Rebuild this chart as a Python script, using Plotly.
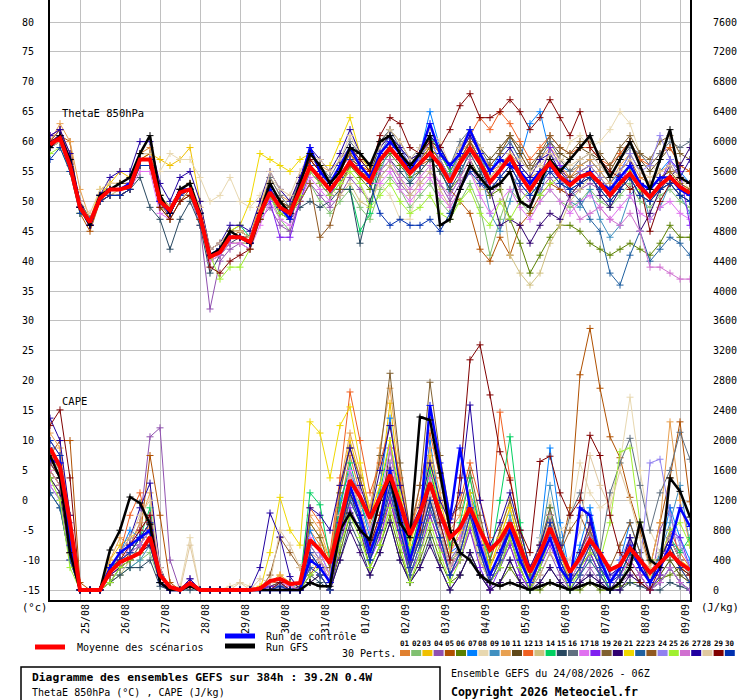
import plotly.graph_objects as go

# Échéances (heures depuis le 24/08/2026 06Z)
echeances = list(range(0, 385, 6))
jours_pos = [18 + 24 * k for k in range(16)]
jours_txt = ["25/08", "26/08", "27/08", "28/08", "29/08", "30/08", "31/08", "01/09",
             "02/09", "03/09", "04/09", "05/09", "06/09", "07/09", "08/09", "09/09"]
theta_ticks = list(range(-15, 81, 5))
cape_ticks = list(range(0, 7601, 400))

couleurs = ["#e08030", "#80c070", "#f0c000", "#9050b0", "#b05000", "#5a8000", "#0080ff", "#e8d8b0",
            "#4090c0", "#e8a050", "#604818", "#f06020", "#d0c080", "#00d060", "#284860", "#607080",
            "#e070f0", "#8020f0", "#806030", "#300070", "#f0d800", "#2060a0", "#905820", "#9080f0",
            "#a0f030", "#d070d0", "#2000a0", "#e0c8a0", "#800000", "#0030b0"]

# ThetaE 850 hPa (°C)
theta_moy = [59.5, 60.6, 56, 49, 46.5, 50.5, 52, 52, 52.5, 57, 57, 50, 48.5, 51.5, 52, 47.5, 40.7, 41.5,
             44, 44, 43.2, 48, 51.5, 49, 48, 52, 55.8, 53.9, 51.9, 54.1, 56.6, 54.7, 53.2, 56.9, 58.9,
             56.9, 54.7, 56.4, 58.1, 56.1, 53.2, 56.4, 58.9, 56.4, 53.2, 55.2, 57.4, 54.4, 51.9, 54.4,
             56.4, 54.1, 52.7, 54.1, 54.7, 53, 51, 53, 54.7, 52.4, 50.7, 52.7, 54.1, 52.4, 51.4]
theta_ctrl = [59, 61, 57, 49, 46, 51, 52, 52, 53, 57, 57, 50, 48, 52, 52, 48, 41, 42, 44, 44, 43, 48,
              52, 49, 47, 53, 59, 55, 53, 56, 59, 56, 54, 58, 60, 58, 55, 58, 63, 58, 56, 58, 62, 58,
              55, 57, 56, 55, 53, 55, 56, 54, 53, 54, 55, 53, 52, 54, 56, 53, 52, 54, 54, 52, 51]
theta_gfs = [59, 61, 57, 49, 46, 51, 52, 53, 54, 58, 61, 51, 48, 52, 53, 48, 41, 42, 45, 44, 43, 48,
             53, 50, 48, 53, 58, 56, 53, 55, 59, 58, 56, 60, 61, 58, 56, 58, 61, 46, 47, 52, 56, 54,
             52, 53, 55, 50, 49, 53, 57, 55, 57, 59, 61, 57, 54, 57, 60, 56, 52, 57, 62, 54, 53]
theta_perts = [
    [60, 62, 58, 50, 46, 51, 53, 53, 54, 58, 59, 51, 48, 52, 53, 48, 40, 42, 45, 44, 44, 49, 53, 50, 47, 53, 57, 55, 53, 56, 58, 55, 54, 58, 60, 58, 56, 57, 59, 57, 54, 58, 60, 57, 55, 56, 58, 56, 54, 55, 58, 56, 54, 56, 57, 55, 53, 55, 57, 54, 53, 55, 56, 54, 53],
    [59, 60, 55, 48, 47, 50, 51, 51, 52, 56, 56, 49, 48, 51, 51, 47, 40, 41, 43, 43, 43, 47, 51, 47, 45, 50, 53, 50, 48, 50, 52, 49, 47, 52, 54, 52, 49, 51, 53, 50, 48, 50, 53, 49, 41, 47, 52, 50, 48, 50, 52, 50, 49, 50, 52, 50, 49, 51, 53, 50, 49, 51, 52, 50, 49],
    [59, 60, 57, 49, 47, 52, 53, 55, 54, 57, 58, 57, 56, 57, 59, 50, 42, 43, 45, 45, 44, 50, 53, 50, 49, 53, 57, 55, 53, 55, 58, 56, 55, 58, 60, 58, 56, 58, 59, 57, 54, 57, 59, 57, 54, 56, 58, 55, 53, 55, 57, 55, 53, 55, 56, 54, 52, 54, 56, 53, 52, 54, 55, 53, 52],
    [61, 62, 57, 49, 46, 50, 51, 51, 52, 56, 56, 49, 48, 51, 51, 46, 32, 40, 42, 43, 42, 47, 49, 46, 45, 50, 53, 51, 49, 51, 54, 52, 50, 54, 56, 53, 51, 53, 55, 53, 50, 53, 56, 53, 51, 53, 55, 52, 50, 52, 54, 52, 51, 52, 53, 52, 50, 52, 54, 51, 50, 52, 53, 51, 50],
    [60, 61, 60, 48, 45, 50, 52, 52, 53, 57, 58, 50, 47, 50, 52, 48, 41, 42, 44, 45, 44, 48, 52, 49, 48, 52, 56, 54, 52, 54, 57, 55, 53, 57, 59, 57, 55, 56, 57, 55, 52, 50, 48, 42, 40, 44, 41, 46, 48, 51, 53, 52, 51, 53, 54, 53, 52, 53, 55, 52, 51, 52, 53, 51, 50],
    [59, 60, 56, 49, 47, 51, 52, 52, 53, 57, 57, 50, 49, 51, 52, 48, 41, 42, 44, 44, 43, 48, 51, 48, 47, 51, 55, 53, 51, 53, 56, 54, 52, 56, 58, 56, 54, 55, 57, 55, 52, 54, 57, 54, 51, 52, 47, 43, 38, 41, 44, 46, 46, 45, 43, 42, 41, 42, 43, 42, 41, 43, 46, 44, 44],
    [60, 61, 57, 50, 47, 51, 52, 53, 53, 58, 58, 51, 49, 52, 53, 48, 41, 42, 45, 44, 44, 49, 53, 50, 49, 53, 58, 56, 53, 56, 59, 57, 55, 59, 61, 59, 56, 58, 65, 59, 55, 58, 61, 58, 55, 58, 60, 57, 63, 65, 58, 56, 55, 56, 57, 55, 53, 55, 58, 55, 53, 55, 57, 55, 53],
    [59, 60, 56, 49, 46, 50, 51, 52, 52, 55, 55, 55, 58, 57, 57, 54, 50, 51, 54, 50, 49, 51, 54, 52, 50, 53, 56, 54, 52, 53, 55, 53, 50, 53, 51, 47, 47, 55, 57, 55, 53, 56, 58, 56, 53, 55, 57, 54, 52, 55, 58, 56, 60, 61, 59, 60, 62, 65, 63, 58, 56, 55, 55, 54, 52],
    [60, 61, 56, 49, 47, 51, 52, 52, 53, 57, 57, 50, 48, 51, 52, 47, 40, 41, 44, 44, 43, 48, 52, 49, 48, 52, 56, 54, 52, 54, 57, 55, 53, 55, 59, 57, 53, 57, 61, 56, 51, 54, 59, 56, 48, 45, 50, 56, 54, 51, 57, 54, 50, 49, 52, 47, 44, 46, 51, 53, 47, 49, 53, 51, 48],
    [60, 63, 60, 52, 47, 51, 53, 53, 54, 58, 58, 51, 49, 52, 53, 49, 42, 43, 45, 45, 44, 49, 54, 51, 50, 54, 57, 56, 55, 57, 59, 57, 56, 59, 61, 58, 56, 58, 60, 58, 55, 58, 60, 58, 56, 58, 61, 58, 55, 57, 59, 57, 55, 56, 57, 55, 53, 56, 58, 55, 53, 55, 56, 54, 53],
    [59, 61, 56, 49, 47, 50, 52, 52, 53, 57, 57, 50, 48, 51, 52, 48, 41, 42, 44, 44, 43, 48, 52, 50, 48, 52, 56, 53, 51, 54, 57, 56, 54, 60, 62, 60, 57, 58, 61, 59, 56, 59, 62, 59, 57, 59, 61, 58, 55, 58, 60, 58, 57, 59, 58, 57, 55, 58, 60, 57, 55, 57, 59, 56, 55],
    [60, 61, 56, 49, 47, 51, 52, 53, 53, 58, 58, 51, 49, 52, 53, 48, 41, 42, 44, 44, 44, 49, 53, 50, 49, 53, 57, 55, 53, 55, 58, 56, 55, 58, 60, 58, 56, 57, 60, 58, 55, 58, 61, 64, 62, 65, 63, 60, 57, 59, 61, 59, 58, 59, 59, 57, 56, 58, 60, 57, 56, 58, 59, 56, 55],
    [59, 60, 56, 49, 47, 50, 51, 52, 52, 56, 56, 49, 48, 51, 51, 47, 40, 41, 43, 43, 43, 47, 53, 50, 50, 54, 57, 55, 52, 51, 53, 50, 49, 54, 56, 54, 51, 53, 55, 52, 49, 52, 55, 52, 52, 54, 41, 38, 36, 38, 43, 46, 50, 52, 54, 52, 50, 52, 54, 51, 50, 52, 53, 51, 50],
    [60, 61, 57, 49, 47, 51, 52, 52, 53, 57, 57, 50, 48, 52, 52, 48, 41, 42, 45, 46, 44, 48, 52, 49, 48, 52, 56, 54, 52, 52, 52, 45, 48, 58, 61, 58, 56, 58, 61, 58, 55, 58, 62, 58, 53, 55, 57, 54, 52, 54, 56, 54, 53, 54, 55, 53, 51, 53, 55, 52, 51, 53, 54, 52, 51],
    [59, 60, 55, 49, 47, 50, 51, 51, 52, 54, 49, 47, 42, 47, 50, 46, 38, 41, 43, 44, 43, 47, 51, 48, 47, 49, 50, 49, 50, 52, 52, 43, 50, 55, 57, 55, 53, 55, 57, 55, 52, 55, 58, 55, 52, 54, 56, 53, 51, 53, 55, 53, 52, 53, 54, 52, 50, 52, 54, 51, 50, 52, 53, 51, 50],
    [60, 61, 56, 49, 47, 51, 52, 52, 53, 57, 57, 50, 49, 52, 52, 48, 41, 42, 44, 44, 43, 48, 54, 51, 49, 54, 58, 56, 54, 57, 60, 58, 56, 60, 62, 59, 57, 59, 61, 59, 56, 60, 62, 59, 56, 58, 60, 57, 55, 57, 60, 57, 55, 57, 58, 56, 54, 57, 59, 58, 56, 58, 60, 59, 60],
    [61, 62, 57, 49, 46, 50, 51, 51, 52, 55, 55, 48, 47, 50, 51, 47, 40, 41, 43, 43, 42, 46, 50, 47, 46, 50, 54, 52, 50, 56, 57, 55, 53, 53, 55, 52, 50, 52, 54, 51, 49, 52, 55, 51, 48, 50, 52, 49, 47, 50, 52, 50, 48, 50, 51, 49, 47, 49, 51, 48, 47, 49, 50, 48, 47],
    [60, 61, 56, 49, 47, 51, 52, 52, 53, 57, 57, 50, 48, 51, 52, 48, 41, 42, 44, 44, 43, 48, 50, 44, 44, 50, 55, 53, 51, 54, 57, 55, 53, 57, 59, 57, 55, 56, 58, 56, 53, 56, 59, 56, 53, 55, 57, 54, 52, 54, 59, 56, 53, 54, 55, 53, 51, 53, 56, 53, 51, 53, 57, 55, 46],
    [60, 61, 56, 49, 47, 51, 52, 52, 53, 57, 57, 50, 48, 52, 52, 48, 41, 42, 45, 44, 44, 48, 53, 50, 49, 53, 57, 55, 53, 55, 58, 56, 54, 58, 60, 58, 56, 57, 59, 57, 54, 57, 60, 57, 56, 58, 61, 59, 56, 58, 61, 59, 58, 60, 60, 58, 56, 59, 61, 58, 57, 60, 61, 58, 57],
    [60, 61, 56, 49, 47, 51, 52, 52, 53, 57, 57, 50, 48, 51, 52, 48, 41, 42, 44, 44, 43, 48, 52, 49, 48, 52, 56, 54, 52, 54, 57, 55, 53, 57, 59, 57, 55, 56, 58, 56, 53, 56, 59, 56, 52, 46, 47, 46, 43, 46, 48, 47, 51, 53, 55, 51, 49, 52, 55, 45, 48, 52, 54, 56, 59],
    [59, 61, 56, 49, 47, 51, 53, 53, 54, 57, 57, 51, 49, 52, 52, 48, 41, 42, 45, 46, 50, 58, 57, 56, 55, 57, 58, 56, 56, 60, 64, 58, 55, 58, 60, 58, 56, 57, 59, 57, 54, 57, 59, 56, 53, 55, 57, 54, 52, 54, 56, 54, 53, 54, 55, 53, 51, 53, 55, 52, 51, 53, 54, 52, 51],
    [60, 61, 56, 49, 47, 51, 52, 52, 53, 57, 57, 50, 48, 51, 52, 48, 41, 42, 44, 44, 43, 48, 52, 49, 48, 52, 56, 54, 52, 54, 57, 55, 53, 57, 59, 57, 55, 56, 58, 56, 53, 56, 59, 56, 53, 55, 57, 54, 52, 54, 56, 54, 52, 50, 47, 45, 38, 36, 41, 45, 40, 42, 44, 43, 41],
    [60, 62, 57, 50, 47, 51, 52, 53, 53, 58, 58, 51, 49, 52, 53, 48, 41, 42, 45, 45, 44, 49, 53, 50, 48, 50, 53, 44, 46, 52, 56, 55, 54, 58, 60, 58, 56, 57, 59, 57, 54, 57, 60, 57, 54, 56, 58, 55, 53, 55, 57, 55, 54, 55, 56, 54, 52, 54, 56, 53, 52, 54, 55, 53, 52],
    [60, 61, 56, 49, 47, 51, 52, 52, 53, 57, 57, 50, 48, 51, 52, 48, 41, 42, 44, 44, 43, 48, 52, 49, 48, 52, 56, 54, 52, 54, 57, 55, 53, 58, 61, 59, 56, 57, 60, 57, 54, 58, 61, 58, 52, 54, 56, 53, 51, 53, 55, 54, 53, 55, 56, 54, 52, 55, 58, 55, 56, 61, 57, 54, 53],
    [58, 59, 55, 48, 47, 50, 51, 51, 52, 56, 56, 49, 47, 50, 51, 47, 41, 37, 39, 39, 42, 47, 51, 48, 47, 51, 55, 53, 51, 53, 55, 53, 49, 51, 53, 50, 48, 49, 51, 48, 47, 50, 52, 48, 46, 50, 47, 50, 52, 51, 53, 54, 53, 54, 55, 53, 51, 53, 55, 52, 51, 53, 54, 52, 51],
    [60, 61, 56, 49, 47, 51, 52, 52, 53, 57, 57, 50, 48, 51, 52, 48, 41, 42, 44, 44, 43, 48, 52, 49, 48, 52, 56, 54, 52, 54, 57, 55, 53, 55, 57, 54, 52, 54, 56, 53, 51, 54, 57, 53, 53, 55, 57, 54, 52, 54, 56, 54, 50, 47, 48, 49, 47, 46, 48, 45, 39, 39, 38, 37, 37],
    [61, 62, 58, 50, 46, 51, 54, 55, 55, 60, 60, 53, 50, 54, 55, 50, 42, 43, 46, 46, 45, 50, 55, 52, 50, 54, 59, 57, 55, 58, 62, 58, 56, 59, 61, 59, 57, 58, 61, 59, 56, 58, 61, 58, 55, 57, 59, 56, 54, 57, 58, 55, 53, 54, 55, 53, 51, 55, 57, 53, 51, 53, 56, 54, 57],
    [59, 60, 56, 50, 48, 52, 53, 53, 54, 58, 58, 51, 49, 52, 53, 49, 42, 43, 45, 45, 44, 49, 55, 52, 51, 55, 58, 57, 55, 57, 61, 58, 56, 59, 62, 60, 57, 59, 62, 60, 56, 59, 62, 59, 54, 56, 58, 57, 55, 56, 58, 57, 56, 57, 58, 56, 54, 55, 57, 55, 54, 55, 56, 54, 53],
    [60, 61, 57, 49, 46, 50, 51, 51, 52, 56, 56, 49, 47, 50, 51, 47, 39, 38, 40, 41, 42, 47, 52, 49, 48, 53, 57, 55, 53, 56, 59, 57, 55, 61, 64, 63, 59, 58, 60, 59, 62, 66, 68, 64, 64, 65, 67, 65, 62, 64, 67, 64, 61, 65, 59, 57, 55, 54, 52, 53, 45, 50, 53, 54, 53],
    [57, 59, 55, 48, 47, 50, 51, 51, 52, 56, 56, 50, 48, 51, 52, 48, 41, 42, 44, 44, 43, 48, 52, 49, 48, 52, 56, 54, 52, 54, 57, 55, 53, 48, 46, 47, 46, 46, 47, 45, 48, 52, 55, 53, 52, 54, 56, 53, 51, 53, 55, 53, 52, 53, 54, 52, 50, 52, 54, 51, 50, 52, 53, 51, 50],
]

# CAPE (J/kg)
cape_moy = [1900, 1650, 900, 0, 0, 0, 240, 375, 430, 495, 710, 200, 40, 0, 95, 0, 0, 0, 0, 0, 0, 20,
            120, 150, 80, 95, 670, 535, 360, 900, 1470, 1250, 960, 1240, 1540, 1160, 740, 1030, 1430,
            1030, 700, 830, 1100, 800, 535, 670, 900, 575, 240, 495, 830, 535, 240, 430, 670, 495,
            270, 335, 560, 400, 230, 360, 495, 360, 270]
cape_ctrl = [1740, 1700, 600, 0, 0, 0, 300, 500, 600, 700, 800, 100, 0, 0, 100, 0, 0, 0, 0, 0, 0, 0, 0,
             0, 0, 0, 400, 300, 100, 900, 1400, 1000, 500, 900, 1600, 1000, 400, 900, 2470, 1700, 950,
             1900, 1100, 600, 200, 500, 800, 400, 100, 400, 700, 300, 100, 1100, 1000, 400, 100, 300,
             600, 300, 100, 300, 600, 1100, 850]
cape_gfs = [1800, 1500, 500, 0, 0, 0, 535, 800, 1244, 1164, 880, 100, 0, 0, 50, 0, 0, 0, 0, 0, 0, 0, 0,
            0, 0, 0, 100, 50, 50, 800, 1030, 800, 669, 1200, 1500, 900, 700, 2315, 2275, 1565, 800,
            500, 400, 200, 100, 50, 100, 50, 0, 50, 100, 50, 0, 50, 100, 50, 0, 100, 300, 910, 400,
            300, 1500, 1320, 976]
cape_perts = [
    [1700, 1500, 600, 0, 0, 0, 300, 500, 400, 600, 900, 200, 0, 0, 100, 0, 0, 0, 0, 0, 0, 0, 100, 150, 50, 100, 800, 600, 300, 1100, 1800, 1300, 900, 1200, 1700, 1100, 500, 1000, 1600, 1000, 600, 700, 1200, 700, 300, 600, 900, 500, 100, 400, 800, 400, 100, 300, 600, 300, 0, 200, 500, 300, 100, 300, 600, 300, 200],
    [1500, 1300, 500, 0, 0, 0, 100, 200, 300, 400, 500, 100, 0, 0, 50, 0, 0, 0, 0, 0, 0, 0, 0, 50, 0, 0, 400, 300, 100, 700, 1300, 1000, 600, 900, 1400, 900, 300, 700, 1200, 800, 400, 500, 1000, 500, 100, 400, 700, 300, 0, 300, 900, 500, 100, 200, 500, 200, 0, 100, 400, 200, 0, 200, 400, 200, 100],
    [1900, 1700, 800, 0, 0, 0, 400, 600, 700, 800, 1000, 300, 0, 0, 100, 0, 0, 0, 0, 0, 0, 50, 100, 200, 100, 100, 900, 700, 400, 1300, 2000, 1500, 1000, 1400, 2500, 1400, 700, 1100, 1800, 1200, 700, 800, 1300, 800, 300, 700, 1100, 600, 200, 500, 900, 500, 200, 400, 700, 400, 100, 300, 600, 400, 200, 400, 700, 400, 300],
    [2000, 1800, 900, 0, 0, 0, 200, 500, 600, 900, 2050, 2170, 400, 0, 150, 0, 0, 0, 0, 0, 0, 0, 50, 100, 0, 0, 300, 200, 0, 600, 1200, 1000, 500, 800, 1300, 700, 200, 600, 1100, 700, 300, 400, 900, 500, 100, 300, 600, 200, 0, 200, 500, 200, 0, 100, 300, 100, 0, 100, 200, 100, 0, 800, 1100, 300, 100],
    [1800, 2000, 2000, 100, 0, 0, 100, 300, 500, 700, 1800, 1000, 100, 0, 50, 0, 0, 0, 0, 0, 0, 0, 0, 0, 0, 0, 200, 400, 100, 800, 1200, 900, 500, 800, 1200, 700, 300, 700, 1000, 600, 200, 400, 800, 400, 100, 300, 700, 300, 0, 400, 900, 500, 1100, 2880, 3500, 2700, 2050, 1770, 1240, 800, 300, 900, 1500, 2250, 1180],
    [1600, 1400, 500, 0, 0, 0, 100, 300, 400, 500, 600, 100, 0, 0, 50, 0, 0, 0, 0, 0, 0, 0, 0, 0, 0, 0, 100, 200, 0, 500, 1000, 800, 300, 600, 1000, 500, 100, 400, 800, 400, 100, 200, 500, 200, 0, 100, 300, 100, 0, 0, 100, 50, 0, 0, 100, 0, 0, 50, 100, 100, 0, 150, 200, 300, 200],
    [1900, 1700, 700, 0, 0, 0, 300, 500, 800, 700, 900, 200, 0, 0, 100, 0, 0, 0, 0, 0, 0, 0, 100, 100, 0, 100, 800, 500, 200, 1200, 1600, 1200, 700, 1400, 2300, 1300, 400, 900, 2000, 1100, 500, 600, 1300, 900, 200, 500, 900, 400, 100, 700, 1900, 900, 200, 600, 1100, 500, 100, 400, 900, 500, 100, 500, 1100, 700, 400],
    [1700, 1500, 600, 0, 0, 0, 200, 400, 500, 600, 800, 100, 0, 50, 700, 0, 0, 0, 50, 100, 50, 0, 0, 100, 100, 0, 300, 400, 100, 900, 1400, 1100, 600, 1000, 1500, 900, 300, 800, 1300, 800, 300, 500, 900, 400, 100, 400, 800, 400, 100, 700, 1200, 800, 900, 1700, 1300, 1100, 1200, 1700, 2580, 1600, 800, 500, 700, 400, 200],
    [1400, 1200, 400, 0, 0, 0, 100, 300, 300, 400, 600, 100, 0, 0, 50, 0, 0, 0, 0, 0, 0, 0, 50, 50, 0, 0, 500, 300, 100, 800, 1300, 900, 400, 900, 1600, 1000, 300, 700, 1200, 800, 300, 600, 1300, 700, 200, 500, 1000, 500, 100, 600, 1400, 700, 200, 500, 800, 400, 100, 300, 700, 300, 100, 500, 900, 1400, 600],
    [2100, 1900, 1000, 0, 0, 0, 400, 700, 600, 900, 1300, 300, 0, 0, 100, 0, 0, 0, 0, 0, 0, 0, 100, 200, 100, 100, 1000, 800, 400, 1400, 2100, 1600, 1100, 1900, 2700, 1600, 800, 1200, 1900, 1300, 800, 1000, 1500, 900, 400, 800, 1200, 700, 200, 600, 1000, 500, 200, 500, 800, 400, 100, 300, 600, 400, 300, 900, 2250, 1200, 600],
    [1600, 1400, 500, 0, 0, 0, 200, 300, 400, 500, 700, 100, 0, 0, 50, 0, 0, 0, 0, 0, 0, 0, 50, 100, 0, 50, 600, 400, 200, 1000, 1500, 1100, 600, 900, 1900, 1100, 400, 800, 1500, 900, 400, 600, 1100, 600, 200, 400, 800, 400, 100, 400, 800, 400, 100, 300, 500, 200, 0, 200, 400, 200, 0, 200, 400, 200, 100],
    [1800, 1700, 800, 0, 0, 0, 300, 500, 1000, 1300, 700, 200, 0, 0, 100, 0, 0, 0, 0, 0, 0, 0, 100, 100, 50, 100, 1100, 900, 500, 1500, 2650, 2000, 1300, 1700, 2200, 1500, 700, 1400, 2100, 1500, 900, 1200, 1700, 1200, 700, 2380, 1500, 800, 300, 600, 1000, 500, 200, 500, 900, 400, 100, 300, 600, 300, 100, 400, 800, 500, 300],
    [1500, 1300, 500, 0, 0, 0, 100, 200, 400, 500, 700, 100, 0, 0, 50, 0, 0, 0, 0, 0, 0, 0, 0, 100, 50, 0, 400, 300, 100, 700, 1200, 900, 500, 700, 1100, 700, 200, 600, 1000, 600, 200, 400, 800, 400, 100, 300, 600, 300, 0, 200, 500, 300, 0, 200, 400, 200, 0, 200, 500, 300, 100, 300, 500, 300, 100],
    [1800, 1600, 700, 0, 0, 0, 300, 400, 500, 700, 1100, 200, 0, 0, 100, 0, 0, 0, 0, 0, 0, 0, 0, 100, 100, 100, 1300, 1140, 400, 1100, 1700, 1200, 800, 1300, 2000, 1200, 500, 1000, 1600, 1100, 600, 900, 1500, 800, 400, 1200, 2050, 900, 200, 500, 1100, 500, 100, 400, 700, 300, 0, 200, 500, 300, 100, 400, 700, 500, 700],
    [1300, 1100, 400, 0, 0, 0, 100, 200, 300, 300, 400, 50, 0, 0, 0, 0, 0, 0, 0, 0, 0, 0, 0, 0, 0, 0, 200, 100, 0, 400, 900, 600, 200, 500, 900, 400, 100, 300, 700, 300, 0, 200, 500, 200, 0, 100, 400, 100, 0, 100, 300, 100, 0, 100, 200, 100, 0, 0, 100, 50, 0, 0, 100, 50, 0],
    [1700, 1500, 600, 0, 0, 0, 200, 400, 400, 600, 800, 200, 0, 0, 50, 0, 0, 0, 0, 0, 0, 0, 0, 50, 0, 0, 500, 300, 100, 900, 1400, 1000, 600, 1000, 1600, 1000, 400, 700, 1300, 800, 300, 500, 1000, 500, 100, 400, 800, 400, 100, 500, 1000, 500, 1000, 1300, 800, 500, 1300, 1700, 2030, 1400, 800, 1300, 1600, 2110, 1750],
    [1400, 1200, 400, 0, 0, 0, 200, 300, 600, 800, 1000, 300, 0, 0, 100, 0, 0, 0, 0, 0, 0, 0, 0, 100, 50, 0, 700, 500, 200, 1000, 1600, 1300, 800, 1200, 1900, 1100, 400, 900, 1500, 1000, 500, 700, 1200, 700, 200, 500, 900, 400, 100, 500, 900, 500, 100, 400, 800, 400, 100, 300, 600, 300, 100, 300, 600, 300, 100],
    [1700, 1500, 600, 0, 0, 0, 300, 500, 600, 700, 900, 200, 0, 0, 50, 0, 0, 0, 0, 0, 0, 0, 50, 50, 0, 0, 300, 200, 0, 600, 1100, 800, 400, 700, 1200, 700, 200, 500, 1000, 600, 200, 400, 800, 300, 0, 300, 600, 200, 0, 300, 600, 300, 0, 200, 500, 200, 0, 200, 400, 200, 0, 200, 800, 700, 300],
    [1800, 1600, 700, 0, 0, 0, 200, 500, 600, 700, 900, 200, 0, 0, 100, 0, 0, 0, 0, 0, 0, 0, 0, 100, 100, 100, 900, 700, 300, 1300, 1900, 1500, 1000, 1800, 2900, 1700, 800, 1400, 2780, 1800, 1000, 1100, 1600, 1000, 400, 800, 1200, 700, 200, 600, 1100, 600, 200, 500, 800, 400, 100, 300, 700, 400, 100, 400, 700, 400, 200],
    [1500, 1300, 500, 0, 0, 0, 200, 300, 400, 500, 600, 100, 0, 0, 50, 0, 0, 0, 0, 0, 0, 0, 0, 0, 0, 0, 100, 200, 0, 400, 800, 500, 200, 500, 900, 400, 100, 300, 600, 300, 0, 200, 500, 200, 0, 100, 400, 100, 0, 100, 300, 100, 0, 100, 200, 100, 0, 0, 200, 100, 0, 100, 300, 100, 0],
    [1600, 1400, 500, 0, 0, 0, 200, 500, 600, 700, 900, 200, 0, 0, 100, 0, 0, 0, 0, 0, 0, 0, 500, 1240, 800, 600, 2250, 2100, 1500, 2200, 2450, 1700, 1000, 1400, 2000, 1300, 600, 1100, 1700, 1100, 500, 800, 1300, 800, 300, 700, 1100, 600, 100, 500, 900, 500, 100, 300, 600, 300, 100, 300, 600, 300, 100, 300, 600, 300, 100],
    [1300, 1100, 400, 0, 0, 0, 300, 400, 500, 600, 800, 100, 0, 0, 50, 0, 0, 0, 0, 0, 0, 0, 0, 50, 0, 0, 300, 200, 0, 700, 1200, 900, 400, 800, 1300, 800, 200, 600, 1100, 700, 200, 500, 1000, 500, 100, 300, 700, 300, 0, 300, 700, 300, 0, 200, 400, 200, 0, 100, 300, 100, 0, 100, 300, 100, 0],
    [1700, 1500, 700, 0, 0, 0, 200, 400, 500, 700, 900, 200, 0, 0, 50, 0, 0, 0, 0, 0, 0, 0, 200, 700, 500, 300, 400, 300, 100, 900, 1400, 1000, 500, 900, 1500, 900, 300, 700, 1200, 800, 300, 600, 1100, 600, 200, 500, 900, 500, 100, 500, 900, 500, 800, 1000, 700, 400, 300, 600, 900, 500, 100, 400, 700, 400, 200],
    [1900, 1700, 800, 0, 0, 0, 200, 400, 500, 600, 800, 200, 0, 0, 100, 0, 0, 0, 0, 0, 0, 0, 0, 100, 0, 0, 600, 400, 100, 900, 1500, 1100, 600, 1000, 1700, 1000, 400, 800, 1400, 900, 400, 600, 1100, 600, 100, 400, 800, 400, 100, 400, 800, 400, 100, 300, 700, 300, 100, 400, 700, 300, 1700, 1750, 1000, 600, 300],
    [1500, 1200, 300, 0, 0, 0, 100, 300, 400, 500, 700, 100, 0, 0, 50, 0, 0, 0, 0, 0, 0, 0, 0, 50, 0, 0, 200, 300, 100, 600, 1000, 700, 300, 600, 1100, 600, 100, 500, 900, 500, 100, 400, 900, 500, 100, 300, 700, 300, 0, 300, 700, 300, 0, 300, 500, 400, 900, 1850, 1900, 900, 400, 400, 800, 900, 600],
    [1600, 1400, 500, 0, 0, 0, 200, 400, 500, 600, 800, 200, 0, 0, 50, 0, 0, 0, 0, 0, 0, 0, 0, 50, 0, 0, 500, 400, 100, 800, 1400, 1000, 500, 900, 1500, 900, 300, 700, 1300, 800, 300, 500, 1000, 500, 100, 400, 800, 400, 100, 400, 900, 400, 100, 300, 600, 300, 100, 200, 400, 200, 0, 100, 300, 100, 0],
    [2300, 2000, 1000, 0, 0, 0, 300, 500, 700, 1100, 1430, 300, 0, 0, 150, 0, 0, 0, 0, 0, 0, 300, 1030, 710, 180, 0, 1100, 1000, 800, 1400, 1900, 1400, 1000, 1600, 2200, 1400, 800, 1100, 1700, 1200, 900, 1300, 2475, 1200, 600, 900, 1300, 800, 300, 600, 1000, 600, 200, 500, 900, 500, 200, 300, 700, 400, 100, 400, 700, 400, 200],
    [1800, 1600, 600, 0, 0, 0, 200, 500, 700, 1000, 1200, 300, 0, 0, 600, 0, 0, 0, 0, 100, 0, 150, 100, 800, 600, 300, 500, 400, 200, 1000, 1500, 1100, 600, 1000, 1500, 900, 400, 800, 1300, 800, 300, 600, 1000, 500, 100, 400, 800, 400, 100, 500, 1000, 500, 400, 800, 1800, 1400, 1100, 1600, 1200, 700, 300, 500, 700, 400, 200],
    [2200, 2410, 1500, 0, 0, 0, 200, 400, 600, 800, 1000, 200, 0, 0, 100, 0, 0, 0, 0, 0, 0, 0, 0, 100, 0, 0, 400, 300, 100, 800, 1300, 1000, 600, 1000, 1600, 1000, 400, 800, 1400, 900, 400, 1500, 3080, 3280, 2610, 1850, 1470, 800, 500, 1720, 1790, 1300, 1000, 1200, 2070, 1800, 1000, 500, 300, 100, 0, 300, 500, 300, 200],
    [2000, 1800, 800, 0, 0, 0, 300, 400, 500, 700, 900, 200, 0, 0, 100, 0, 0, 0, 0, 0, 0, 0, 0, 50, 0, 0, 500, 300, 100, 800, 1300, 900, 400, 800, 1400, 800, 300, 700, 1200, 700, 200, 500, 1000, 500, 100, 400, 800, 400, 100, 400, 900, 400, 100, 300, 600, 300, 100, 200, 500, 300, 100, 300, 600, 300, 100],
]

for nom, serie in [("theta_moy", theta_moy), ("theta_ctrl", theta_ctrl), ("theta_gfs", theta_gfs),
                   ("cape_moy", cape_moy), ("cape_ctrl", cape_ctrl), ("cape_gfs", cape_gfs)]:
    assert len(serie) == 65, (nom, len(serie))
for k in range(30):
    assert len(theta_perts[k]) == 65, ("theta", k + 1, len(theta_perts[k]))
    assert len(cape_perts[k]) == 65, ("cape", k + 1, len(cape_perts[k]))

POLICE = "DejaVu Sans Mono"
Y1 = [-16.67, 83.68]
Y2 = [(Y1[0] + 15) * 80, (Y1[1] + 15) * 80]


def px(x):
    return (x - 50) / 640


def py(y):
    return (600 - y) / 600


def trace(y, couleur, largeur, axe, marqueurs=True):
    return go.Scatter(
        x=echeances, y=y, yaxis=axe, mode="lines+markers" if marqueurs else "lines",
        line=dict(color=couleur, width=largeur),
        marker=dict(symbol="cross-thin", size=5, line=dict(color=couleur, width=1)),
        showlegend=False, hoverinfo="skip",
    )


fig = go.Figure()
for k in range(30):
    fig.add_trace(trace(cape_perts[k], couleurs[k], 1, "y2"))
    fig.add_trace(trace(theta_perts[k], couleurs[k], 1, "y"))
fig.add_trace(trace(cape_ctrl, "#0000ff", 2.5, "y2"))
fig.add_trace(trace(theta_ctrl, "#0000ff", 2.5, "y"))
fig.add_trace(trace(cape_gfs, "#000000", 2.5, "y2"))
fig.add_trace(trace(theta_gfs, "#000000", 2.5, "y"))
fig.add_trace(trace(cape_moy, "#ff0000", 4, "y2", marqueurs=False))
fig.add_trace(trace(theta_moy, "#ff0000", 4, "y", marqueurs=False))

annotations = [
    dict(x=px(60), y=py(113), text="ThetaE 850hPa", size=10.5),
    dict(x=px(60), y=py(401), text="CAPE", size=10.5),
    dict(x=px(20), y=py(607), text="(°c)", size=10.5),
    dict(x=px(699), y=py(607), text="(J/kg)", size=10.5),
    dict(x=px(75), y=py(647), text="Moyenne des scénarios", size=10),
    dict(x=px(264), y=py(636), text="Run de contrôle", size=10),
    dict(x=px(264), y=py(647), text="Run GFS", size=10),
    dict(x=px(340), y=py(653), text="30 Perts.", size=10),
    dict(x=px(30), y=py(678), text="<b>Diagramme des ensembles GEFS sur 384h : 39.2N 0.4W</b>", size=11.3),
    dict(x=px(30), y=py(692), text="ThetaE 850hPa (°C) , CAPE (J/kg)", size=10),
    dict(x=px(449), y=py(673), text="Ensemble GEFS du 24/08/2026 - 06Z", size=10),
    dict(x=px(449), y=py(692), text="<b>Copyright 2026 Meteociel.fr</b>", size=11.5),
]
annots = [dict(xref="paper", yref="paper", x=a["x"], y=a["y"], text=a["text"], showarrow=False,
               xanchor="left", yanchor="middle", font=dict(family=POLICE, size=a["size"], color="black"))
          for a in annotations]

# graduations de gauche calées à gauche, comme sur l'original
for v in theta_ticks:
    annots.append(dict(xref="paper", yref="y", x=px(20), y=v, text=str(v), showarrow=False,
                       xanchor="left", yanchor="middle", font=dict(family=POLICE, size=10, color="black")))

formes = [
    dict(type="line", xref="paper", yref="paper", x0=px(35), x1=px(65), y0=py(647), y1=py(647),
         line=dict(color="#ff0000", width=5)),
    dict(type="line", xref="paper", yref="paper", x0=px(225), x1=px(255), y0=py(636), y1=py(636),
         line=dict(color="#0000ff", width=5)),
    dict(type="line", xref="paper", yref="paper", x0=px(225), x1=px(255), y0=py(646), y1=py(646),
         line=dict(color="#000000", width=5)),
    dict(type="rect", xref="paper", yref="paper", x0=px(21), x1=px(440), y0=py(667), y1=py(703),
         line=dict(color="black", width=1.5), fillcolor="rgba(0,0,0,0)"),
]
for k in range(30):
    x0 = 400 + 11.2 * k
    formes.append(dict(type="rect", xref="paper", yref="paper", x0=px(x0), x1=px(x0 + 10),
                       y0=py(656), y1=py(650), line=dict(width=0), fillcolor=couleurs[k]))
    annots.append(dict(xref="paper", yref="paper", x=px(x0 + 5), y=py(643), text="<b>%02d</b>" % (k + 1),
                       showarrow=False, xanchor="center", yanchor="middle",
                       font=dict(family=POLICE, size=7.5, color="black")))

fig.update_layout(
    width=740, height=700,
    margin=dict(l=50, r=50, t=0, b=100),
    paper_bgcolor="white", plot_bgcolor="white",
    font=dict(family=POLICE, size=10, color="black"),
    xaxis=dict(range=[0, 384], tickvals=jours_pos, ticktext=jours_txt, tickangle=-90,
               showgrid=True, gridcolor="#c0c0c0", gridwidth=1, zeroline=False,
               showline=True, linecolor="black", linewidth=2, ticks="",
               ticklabelstandoff=-2, ticklabelshift=6, tickfont=dict(family=POLICE, size=10)),
    yaxis=dict(range=Y1, tickvals=theta_ticks, showticklabels=False, showgrid=True,
               gridcolor="#c0c0c0", gridwidth=1, zeroline=False, showline=True, linecolor="black",
               linewidth=2, ticks=""),
    yaxis2=dict(range=Y2, overlaying="y", side="right", tickvals=cape_ticks,
                showgrid=False, zeroline=False, showline=True, linecolor="black", linewidth=2,
                ticks="", ticklabelstandoff=19, tickfont=dict(family=POLICE, size=10)),
    annotations=annots,
    shapes=formes,
)

# la page HTML a une marge de 8 px par défaut : on la supprime pour caler la figure sur la fenêtre
fig.write_html("out.html", config={"displayModeBar": False},
               post_script="document.body.style.margin = '0';")
